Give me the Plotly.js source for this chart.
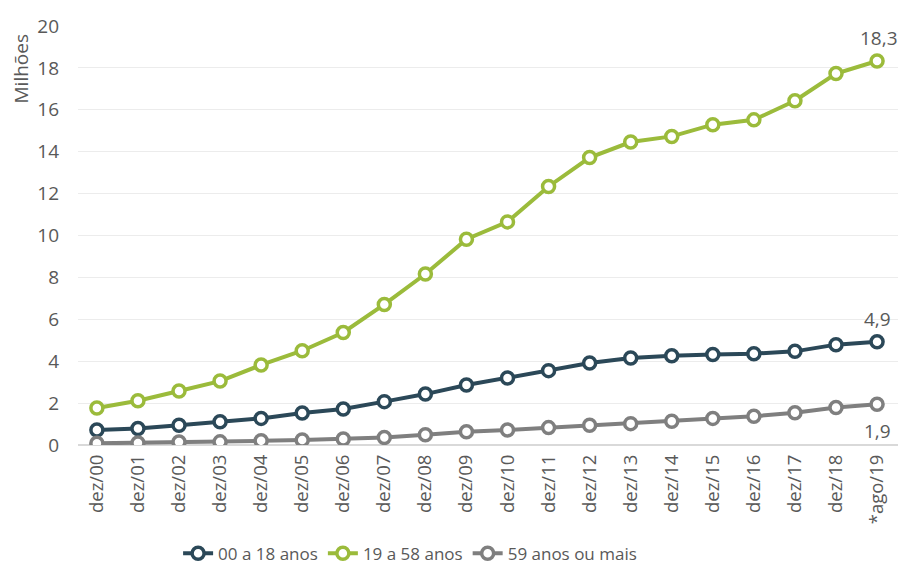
<!DOCTYPE html>
<html>
<head>
<meta charset="utf-8">
<script src="https://cdn.plot.ly/plotly-3.0.1.min.js"></script>
<style>html,body{margin:0;padding:0;background:#fff}#chart{width:898px;height:565px}</style>
</head>
<body>
<div id="chart"></div>
<script>
const categories = ["dez/00","dez/01","dez/02","dez/03","dez/04","dez/05","dez/06","dez/07","dez/08","dez/09","dez/10","dez/11","dez/12","dez/13","dez/14","dez/15","dez/16","dez/17","dez/18","*ago/19"];
const seriesNames = ["00 a 18 anos","19 a 58 anos","59 anos ou mais"];
const young = [0.72,0.79,0.94,1.11,1.27,1.53,1.72,2.07,2.43,2.86,3.2,3.55,3.91,4.15,4.26,4.32,4.36,4.47,4.79,4.93];
const adult = [1.77,2.11,2.58,3.05,3.82,4.5,5.37,6.71,8.16,9.82,10.65,12.34,13.72,14.46,14.73,15.29,15.52,16.43,17.73,18.33];
const senior = [0.08,0.1,0.14,0.15,0.2,0.24,0.29,0.36,0.49,0.63,0.72,0.83,0.94,1.02,1.13,1.27,1.37,1.54,1.79,1.95];
const endLabels = ["4,9","18,3","1,9"];

const colors = ["#2b4858","#9bbb3b","#7f7f7f"];
const data = [young, adult, senior];
const traces = data.map((ys, i) => ({
  type: "scatter",
  mode: "lines+markers",
  name: seriesNames[i],
  x: categories,
  y: ys,
  line: {color: colors[i], width: 4},
  marker: {symbol: "circle", size: 12, color: "#ffffff", line: {color: colors[i], width: 3.5}}
}));

const last = categories.length - 1;
const annotations = [
  {x: categories[last], y: young[last], text: endLabels[0], showarrow: false, yshift: 23},
  {x: categories[last], y: adult[last], text: endLabels[1], showarrow: false, yshift: 23, xshift: 2},
  {x: categories[last], y: senior[last], text: endLabels[2], showarrow: false, yshift: -27},
  {xref: "paper", yref: "paper", x: -0.07, y: 0.986, xanchor: "center", yanchor: "top", text: "Milhões", textangle: -90, showarrow: false}
].map(a => Object.assign({font: {size: 19, color: "#595959", family: "Open Sans"}}, a));

const layout = {
  width: 898, height: 565,
  margin: {l: 78, r: 0, t: 26, b: 120},
  paper_bgcolor: "#ffffff", plot_bgcolor: "#ffffff",
  font: {family: "Open Sans, sans-serif", size: 19, color: "#595959"},
  showlegend: true,
  legend: {orientation: "h", x: 0.405, xanchor: "center", yref: "container", y: 0.02, yanchor: "middle", font: {size: 17, color: "#595959"}, itemwidth: 30, traceorder: "normal"},
  xaxis: {
    type: "category",
    range: [-0.46, 19.51],
    tickangle: -90,
    showgrid: false,
    showline: false,
    zeroline: false,
    ticks: "",
    ticklabelstandoff: 5,
    tickfont: {size: 18.5, color: "#595959"}
  },
  yaxis: {
    range: [0, 20],
    dtick: 2,
    showgrid: true,
    gridcolor: "#ececec",
    gridwidth: 1,
    zeroline: true,
    zerolinecolor: "#d9d9d9",
    zerolinewidth: 1.5,
    showline: false,
    ticks: "",
    ticklabelstandoff: 18,
    tickfont: {size: 19, color: "#595959"}
  },
  annotations: annotations
};

Plotly.newPlot("chart", traces, layout, {displayModeBar: false, staticPlot: true});
</script>
</body>
</html>
